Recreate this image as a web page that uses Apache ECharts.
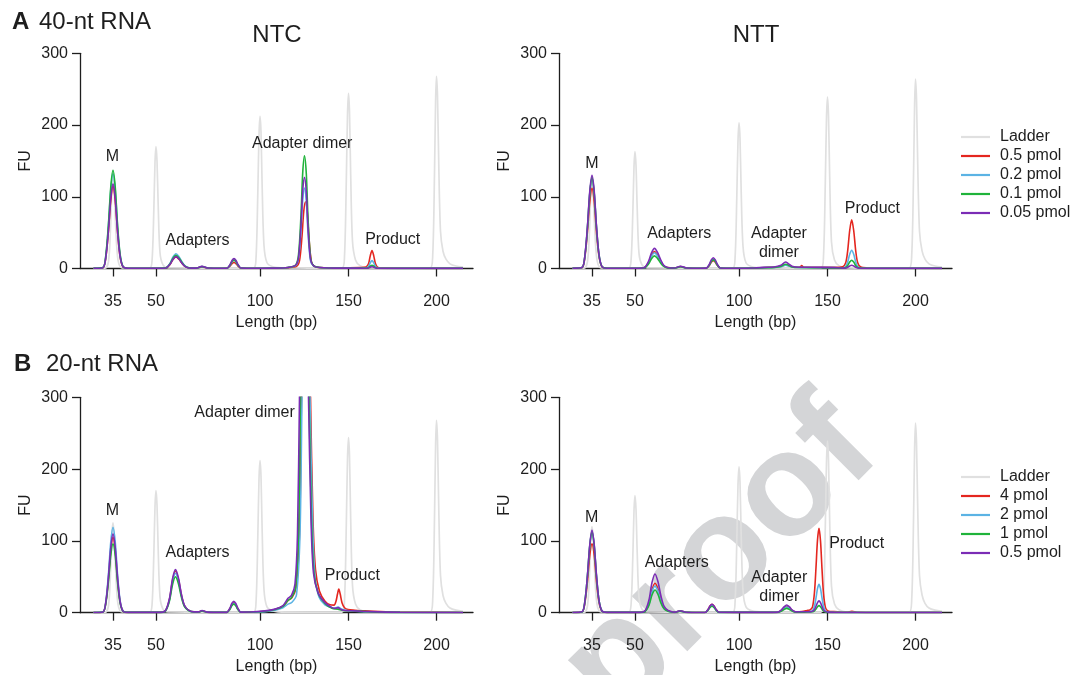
<!DOCTYPE html>
<html><head><meta charset="utf-8">
<script src="https://cdn.jsdelivr.net/npm/echarts@6/dist/echarts.min.js"></script>
<style>html,body{margin:0;padding:0;background:#fff}#c{width:1083px;height:675px}</style>
</head><body><div id="c"></div>
<script>
// ---------- axis: migration time (s) of ladder bands and their sizes ----------
const ladderBp = [35, 50, 100, 150, 200];
const ladderTime = [43.3, 47.6, 58.0, 66.85, 75.65];
const fuTicks = [0, 100, 200, 300];

// ---------- names ----------
const names40 = ['0.5 pmol', '0.2 pmol', '0.1 pmol', '0.05 pmol'];
const names20 = ['4 pmol', '2 pmol', '1 pmol', '0.5 pmol'];

// ---------- ladder traces [time, FU] ----------
const ladderLeft = [
[41.35,0.3],[42.5,0.4],[42.85,10],[43.05,55],[43.18,108],[43.3,125],[43.42,108],[43.57,58],[43.8,12],[44.2,1],
[46.95,0.3],[47.2,10],[47.38,80],[47.5,148],[47.6,170],[47.7,150],[47.82,88],[48.0,22],[48.3,5],[48.8,1],
[57.35,0.5],[57.6,14],[57.78,105],[57.9,186],[58.0,212],[58.1,190],[58.22,112],[58.4,32],[58.7,8],[59.3,2.5],[60.5,0.8],
[66.2,0.6],[66.45,17],[66.63,122],[66.75,214],[66.85,244],[66.95,218],[67.07,130],[67.25,38],[67.55,12],[68.0,4],[68.8,1],
[75.0,0.6],[75.27,18],[75.45,132],[75.56,234],[75.65,268],[75.75,240],[75.88,142],[76.05,52],[76.3,24],[76.6,13],[77.0,6.5],[77.6,3.5],[78.3,2]
];
const ladderRight = [
[41.35,0.3],[42.5,0.4],[42.85,10],[43.05,53],[43.18,104],[43.3,120],[43.42,104],[43.57,56],[43.8,12],[44.2,1],
[46.95,0.3],[47.2,10],[47.38,77],[47.5,142],[47.6,163],[47.7,144],[47.82,84],[48.0,21],[48.3,5],[48.8,1],
[57.35,0.5],[57.6,13],[57.78,100],[57.9,178],[58.0,203],[58.1,182],[58.22,107],[58.4,31],[58.7,8],[59.3,2.5],[60.5,0.8],
[66.2,0.6],[66.45,17],[66.63,119],[66.75,210],[66.85,239],[66.95,213],[67.07,127],[67.25,37],[67.55,12],[68.0,4],[68.8,1],
[75.0,0.6],[75.27,18],[75.45,127],[75.56,228],[75.65,264],[75.75,236],[75.88,140],[76.05,52],[76.3,25],[76.6,13],[77.0,6.5],[77.6,3.5],[78.3,2]
];

// ---------- A: 40-nt RNA, NTC ----------
const ntc40_05 = [
[41.35,0.3],[42.3,1.2],[42.6,17],[42.85,53],[43.08,95],[43.3,115],[43.52,95],[43.75,52],[44.0,17],[44.3,2.3],[44.8,0.4],
[48.0,0.4],[48.6,0.8],[49.0,5.6],[49.3,12.5],[49.6,16],[49.9,12.8],[50.2,7.2],[50.5,2.9],[50.9,0.8],
[51.6,0.5],[52.2,2.2],[52.8,0.6],
[54.2,0.3],[54.7,0.5],[55.0,3.2],[55.2,6.8],[55.4,8.5],[55.6,6.8],[55.8,3.4],[56.1,0.5],
[57.5,0.3],[59.5,0.5],[60.8,1.2],
[61.65,3],[61.95,11],[62.2,45],[62.37,79],[62.55,93],[62.73,78],[62.9,42],[63.15,9],[63.45,3],[64.05,1.2],
[66.0,0.6],[68.0,1.2],
[68.6,2],[68.85,6.5],[69.03,18],[69.2,25],[69.37,18],[69.55,6.5],[69.8,1.5],[70.5,0.5],[73,0.3],[78.3,0.2]
];
const ntc40_02 = [
[41.35,0.3],[42.3,1.3],[42.6,20],[42.85,61],[43.08,110],[43.3,132],[43.52,110],[43.75,59],[44.0,20],[44.3,2.6],[44.8,0.4],
[48.0,0.4],[48.6,1],[49.0,7.2],[49.3,16],[49.6,20.5],[49.9,16.4],[50.2,9.2],[50.5,3.7],[50.9,1],
[51.6,0.5],[52.2,2.6],[52.8,0.6],
[54.2,0.3],[54.7,0.4],[55.0,4.4],[55.2,9.2],[55.4,11.5],[55.6,9.2],[55.8,4.6],[56.1,0.6],
[57.5,0.3],[59.5,0.5],[60.8,1.5],
[61.55,4],[61.85,13.5],[62.1,54],[62.27,95],[62.45,112],[62.63,94],[62.8,50],[63.05,11],[63.35,3.5],[63.95,1.3],
[66.0,0.5],[68.0,0.8],
[68.6,0.8],[68.85,2.8],[69.03,8],[69.2,11],[69.37,8],[69.55,2.8],[69.8,0.6],[70.5,0.3],[73,0.2],[78.3,0.2]
];
const ntc40_01 = [
[41.35,0.3],[42.3,1.4],[42.6,21],[42.85,63],[43.08,114],[43.3,137],[43.52,114],[43.75,62],[44.0,21],[44.3,2.7],[44.8,0.4],
[48.0,0.4],[48.6,0.9],[49.0,6.5],[49.3,14.4],[49.6,18.5],[49.9,14.8],[50.2,8.3],[50.5,3.3],[50.9,0.9],
[51.6,0.5],[52.2,2.6],[52.8,0.6],
[54.2,0.3],[54.7,0.4],[55.0,4.6],[55.2,9.6],[55.4,12],[55.6,9.6],[55.8,4.8],[56.1,0.6],
[57.5,0.3],[59.5,0.5],[60.8,1.5],
[61.55,4.5],[61.85,19],[62.1,75],[62.27,133],[62.45,157],[62.63,132],[62.8,71],[63.05,16],[63.35,4],[63.95,1.5],
[66.0,0.5],[68.0,0.6],
[68.6,0.5],[68.85,1.2],[69.03,3.3],[69.2,4.5],[69.37,3.3],[69.55,1.2],[69.8,0.4],[70.5,0.3],[73,0.2],[78.3,0.2]
];
const ntc40_005 = [
[41.35,0.3],[42.3,1.2],[42.6,18],[42.85,54],[43.08,98],[43.3,118],[43.52,98],[43.75,53],[44.0,18],[44.3,2.4],[44.8,0.4],
[48.0,0.4],[48.6,0.8],[49.0,5.8],[49.3,12.9],[49.6,16.5],[49.9,13.2],[50.2,7.4],[50.5,3],[50.9,0.8],
[51.6,0.5],[52.2,3],[52.8,0.6],
[54.2,0.3],[54.7,0.4],[55.0,5.3],[55.2,11.2],[55.4,14],[55.6,11.2],[55.8,5.6],[56.1,0.7],
[57.5,0.3],[59.5,0.5],[60.8,1.5],
[61.55,4.5],[61.85,15],[62.1,61],[62.27,108],[62.45,127],[62.63,107],[62.8,57],[63.05,13],[63.35,3.8],[63.95,1.5],
[66.0,0.5],[68.0,0.5],
[68.6,0.4],[68.85,0.8],[69.03,1.8],[69.2,2.5],[69.37,1.8],[69.55,0.7],[69.8,0.3],[70.5,0.2],[73,0.2],[78.3,0.2]
];

// ---------- A: 40-nt RNA, NTT ----------
const ntt40_05 = [
[41.35,0.3],[42.3,1.1],[42.6,17],[42.85,52],[43.08,93],[43.3,112],[43.52,93],[43.75,50],[44.0,17],[44.3,2.2],[44.8,0.4],
[48.0,0.4],[48.55,1.2],[48.95,8.2],[49.25,18.3],[49.55,23.5],[49.85,18.8],[50.15,10.6],[50.45,4.2],[50.85,1.2],
[51.55,0.6],[52.15,2.6],[52.75,0.7],
[54.2,0.4],[54.73,0.5],[55.03,4.2],[55.23,8.8],[55.43,11],[55.63,8.8],[55.83,4.4],[56.13,0.6],
[57.5,0.3],[59.5,0.6],[60.5,1.5],[61.5,2],
[62.2,3],[62.45,4.3],[62.67,5],[62.9,4.2],[63.3,2.5],
[63.9,1.8],[64.12,2.2],[64.27,4.2],[64.42,2.2],[64.7,1.8],[66,1.5],[67.5,1.5],
[68.37,2.5],[68.67,8],[68.87,25],[69.07,53],[69.27,68],[69.47,53],[69.67,25],[69.87,8],[70.17,2],[70.8,0.8],[73,0.4],[78.3,0.2]
];
const ntt40_02 = [
[41.35,0.3],[42.3,1.3],[42.6,19],[42.85,58],[43.08,105],[43.3,126],[43.52,105],[43.75,57],[44.0,19],[44.3,2.5],[44.8,0.4],
[48.0,0.4],[48.55,1.1],[48.95,7.7],[49.25,17.2],[49.55,22],[49.85,17.6],[50.15,9.9],[50.45,4],[50.85,1.1],
[51.55,0.6],[52.15,2.8],[52.75,0.7],
[54.2,0.4],[54.73,0.4],[55.03,4.9],[55.23,10.4],[55.43,13],[55.63,10.4],[55.83,5.2],[56.13,0.7],
[57.5,0.3],[59.5,0.5],[60.5,1.2],[61.5,1.6],
[62.2,2.5],[62.45,3.8],[62.67,4.5],[62.9,3.8],[63.3,2],
[64.0,1.4],[66,1.2],[67.5,1.2],
[68.37,0.8],[68.67,2.8],[68.87,9.2],[69.07,19.8],[69.27,25.5],[69.47,19.8],[69.67,9.2],[69.87,2.8],[70.17,0.8],[70.8,0.4],[73,0.3],[78.3,0.2]
];
const ntt40_01 = [
[41.35,0.3],[42.3,1.3],[42.6,19],[42.85,58],[43.08,105],[43.3,127],[43.52,105],[43.75,57],[44.0,19],[44.3,2.5],[44.8,0.4],
[48.0,0.4],[48.55,0.9],[48.95,6.2],[49.25,13.7],[49.55,17.6],[49.85,14.1],[50.15,7.9],[50.45,3.2],[50.85,0.9],
[51.55,0.5],[52.15,2.5],[52.75,0.6],
[54.2,0.4],[54.73,0.4],[55.03,4.6],[55.23,9.6],[55.43,12],[55.63,9.6],[55.83,4.8],[56.13,0.6],
[57.5,0.3],[59.5,0.5],[60.5,1.1],[61.5,1.5],
[62.2,3],[62.45,5],[62.67,6],[62.9,5],[63.3,2.2],
[64.0,1.3],[66,1.1],[67.5,1.1],
[68.37,0.5],[68.67,1.4],[68.87,4.2],[69.07,9],[69.27,11.6],[69.47,9],[69.67,4.2],[69.87,1.4],[70.17,0.5],[70.8,0.3],[73,0.2],[78.3,0.2]
];
const ntt40_005 = [
[41.35,0.3],[42.3,1.3],[42.6,19.5],[42.85,60],[43.08,108],[43.3,130],[43.52,108],[43.75,58.5],[44.0,19.5],[44.3,2.6],[44.8,0.4],
[48.0,0.4],[48.55,1.4],[48.95,9.8],[49.25,21.8],[49.55,28],[49.85,22.4],[50.15,12.6],[50.45,5],[50.85,1.4],
[51.55,0.6],[52.15,3.2],[52.75,0.7],
[54.2,0.4],[54.73,0.5],[55.03,5.7],[55.23,12],[55.43,15],[55.63,12],[55.83,6],[56.13,0.8],
[57.5,0.3],[59.5,0.6],[60.5,1.6],[61.5,2.2],
[62.2,4.5],[62.45,7.2],[62.67,9],[62.9,7],[63.3,3.2],
[64.0,1.8],[66,1.6],[67.5,1.4],
[68.37,0.5],[68.67,0.8],[68.87,1.8],[69.07,3.6],[69.27,4.6],[69.47,3.6],[69.67,1.8],[69.87,0.8],[70.17,0.4],[70.8,0.2],[73,0.2],[78.3,0.2]
];

// ---------- B: 20-nt RNA, NTC ----------
const ntc20_4 = [
[41.35,0.3],[42.3,1.1],[42.6,16],[42.85,48],[43.08,87],[43.3,105],[43.52,87],[43.75,47],[44.0,16],[44.3,2.1],[44.8,0.4],
[48.0,0.4],[48.55,2.9],[48.95,19],[49.25,45],[49.55,58],[49.85,46],[50.15,24],[50.45,9.9],[50.85,3.5],[51.4,1.2],
[51.9,1.2],[52.2,2.6],[52.7,0.8],
[54.2,0.4],[54.68,0.4],[54.98,5.3],[55.18,11.2],[55.38,14],[55.58,11.2],[55.78,5.6],[56.08,0.7],
[57.0,0.8],[58.5,2],[59.5,4.5],[60.3,9],[60.8,17],[61.2,21],[61.6,35],[61.95,110],[62.15,300],[62.35,470],[62.6,570],
[62.82,470],[63.05,300],[63.3,130],[63.55,60],[63.95,30],[64.5,16],[65.0,11],[65.4,10.5],
[65.6,16],[65.75,26],[65.88,33],[66.02,26],[66.2,14],[66.45,7],[66.8,4.5],[67.5,3.5],[68.5,2.5],[70,1.5],[72,0.8],[78.3,0.3]
];
const ntc20_2 = [
[41.35,0.3],[42.3,1.2],[42.6,18],[42.85,55],[43.08,99],[43.3,119],[43.52,99],[43.75,54],[44.0,18],[44.3,2.4],[44.8,0.4],
[48.0,0.4],[48.55,2.8],[48.95,18],[49.25,43],[49.55,55],[49.85,44],[50.15,23],[50.45,9.4],[50.85,3.3],[51.4,1.1],
[51.9,1.1],[52.2,2.6],[52.7,0.8],
[54.2,0.4],[54.68,0.4],[54.98,4.9],[55.18,10.4],[55.38,13],[55.58,10.4],[55.78,5.2],[56.08,0.7],
[57.0,0.6],[58.5,1.5],[59.5,3.5],[60.3,7],[60.8,12],[61.2,14.5],[61.65,25],[62.0,110],[62.2,300],[62.4,470],[62.62,570],
[62.83,470],[63.0,300],[63.25,130],[63.5,50],[63.9,22],[64.5,11],[65.2,7],
[65.5,6.5],[65.8,8],[66.1,5.5],[66.5,3.5],[67.5,2],[69,1],[72,0.5],[78.3,0.2]
];
const ntc20_1 = [
[41.35,0.3],[42.3,1],[42.6,14.4],[42.85,44],[43.08,80],[43.3,96],[43.52,80],[43.75,43],[44.0,14.4],[44.3,1.9],[44.8,0.4],
[48.0,0.4],[48.55,2.5],[48.95,16.5],[49.25,39],[49.55,50],[49.85,40],[50.15,21],[50.45,8.5],[50.85,3],[51.4,1],
[51.9,1],[52.2,2.4],[52.7,0.7],
[54.2,0.4],[54.68,0.4],[54.98,4.6],[55.18,9.6],[55.38,12],[55.58,9.6],[55.78,4.8],[56.08,0.6],
[57.0,0.8],[58.5,2],[59.5,4.5],[60.3,9],[60.8,17],[61.15,21],[61.55,35],[61.85,110],[62.05,300],[62.25,470],[62.48,570],
[62.7,470],[62.9,300],[63.15,130],[63.4,55],[63.85,26],[64.5,13],[65.2,6],
[65.8,5],[66.3,3],[67.5,2.5],[69,1.2],[72,0.5],[78.3,0.2]
];
const ntc20_05 = [
[41.35,0.3],[42.3,1.1],[42.6,16.5],[42.85,51],[43.08,91],[43.3,110],[43.52,91],[43.75,50],[44.0,16.5],[44.3,2.2],[44.8,0.4],
[48.0,0.4],[48.55,3],[48.95,20],[49.25,47],[49.55,60],[49.85,48],[50.15,25],[50.45,10],[50.85,3.6],[51.4,1.2],
[51.9,1.2],[52.2,3],[52.7,0.8],
[54.2,0.4],[54.68,0.5],[54.98,6],[55.18,12.8],[55.38,16],[55.58,12.8],[55.78,6.4],[56.08,0.8],
[57.0,0.9],[58.5,2.5],[59.5,5],[60.3,10],[60.8,20],[61.15,24],[61.5,40],[61.75,110],[61.95,300],[62.15,470],[62.4,570],
[62.65,470],[62.85,300],[63.1,130],[63.35,55],[63.8,28],[64.5,14],[65.2,7],
[65.5,6],[65.8,7],[66.1,4.5],[66.5,3],[67.5,2.5],[69,1.5],[72,0.6],[78.3,0.2]
];

// ---------- B: 20-nt RNA, NTT ----------
const ntt20_4 = [
[41.35,0.3],[42.3,1],[42.6,14.4],[42.85,44],[43.08,80],[43.3,96],[43.52,80],[43.75,43],[44.0,14.4],[44.3,1.9],[44.8,0.4],
[48.0,0.4],[48.6,2],[49.0,13.5],[49.3,32],[49.6,41],[49.9,33],[50.2,17],[50.5,7],[50.9,2.5],[51.4,0.8],
[51.6,0.6],[52.1,2.5],[52.7,0.6],
[54.1,0.3],[54.6,0.3],[54.9,4.4],[55.1,9.3],[55.3,11.6],[55.5,9.3],[55.7,4.6],[56.0,0.6],
[58,0.4],[61.2,0.5],
[61.9,0.7],[62.25,3.4],[62.5,6.8],[62.77,9],[63.05,6.8],[63.3,3.4],[63.7,1],
[64.3,1.5],[64.8,3],[65.1,4],[65.35,8],[65.55,29],[65.7,63],[65.85,101],[66.0,117.6],[66.15,100],[66.3,61],[66.45,27],[66.65,7],[66.9,2.5],[67.5,1.5],
[68.8,0.8],[69.3,2],[69.8,0.6],[72,0.3],[78.3,0.3]
];
const ntt20_2 = [
[41.35,0.3],[42.3,1.1],[42.6,17],[42.85,52],[43.08,94],[43.3,113],[43.52,94],[43.75,51],[44.0,17],[44.3,2.3],[44.8,0.4],
[48.0,0.4],[48.6,1.9],[49.0,12],[49.3,29],[49.6,37],[49.9,30],[50.2,15.5],[50.5,6.3],[50.9,2.2],[51.4,0.7],
[51.6,0.6],[52.1,2.4],[52.7,0.6],
[54.1,0.3],[54.6,0.3],[54.9,3.8],[55.1,8],[55.3,10],[55.5,8],[55.7,4],[56.0,0.5],
[58,0.4],[61.2,0.5],
[61.9,0.6],[62.25,3],[62.5,6],[62.77,8],[63.05,6],[63.3,3],[63.7,0.9],
[64.3,1],[64.8,1.3],[65.1,1.5],[65.35,2.8],[65.55,9.5],[65.7,20.5],[65.85,33.5],[66.0,39.5],[66.15,33.5],[66.3,20.5],[66.45,9.2],[66.65,2.5],[66.9,1],[67.5,0.7],
[70,0.4],[78.3,0.3]
];
const ntt20_1 = [
[41.35,0.3],[42.3,1.1],[42.6,17],[42.85,52],[43.08,93],[43.3,112],[43.52,93],[43.75,50],[44.0,17],[44.3,2.2],[44.8,0.4],
[48.0,0.4],[48.6,1.6],[49.0,10.4],[49.3,24.6],[49.6,31.6],[49.9,25.3],[50.2,13.3],[50.5,5.4],[50.9,1.9],[51.4,0.6],
[51.6,0.5],[52.1,2.2],[52.7,0.5],
[54.1,0.3],[54.6,0.3],[54.9,3.4],[55.1,7.2],[55.3,9],[55.5,7.2],[55.7,3.6],[56.0,0.5],
[58,0.4],[61.2,0.4],
[61.9,0.5],[62.25,2.3],[62.5,4.5],[62.77,6],[63.05,4.5],[63.3,2.3],[63.7,0.7],
[64.3,0.8],[64.8,0.9],[65.1,1],[65.35,1.2],[65.55,2.6],[65.7,5.2],[65.85,8.3],[66.0,9.8],[66.15,8.3],[66.3,5.1],[66.45,2.4],[66.65,0.8],[66.9,0.5],[67.5,0.3],
[70,0.3],[78.3,0.2]
];
const ntt20_05 = [
[41.35,0.3],[42.3,1.2],[42.6,17],[42.85,53],[43.08,95],[43.3,115],[43.52,95],[43.75,52],[44.0,17],[44.3,2.3],[44.8,0.4],
[48.0,0.4],[48.6,2.7],[49.0,18],[49.3,42],[49.6,54],[49.9,43],[50.2,23],[50.5,9.2],[50.9,3.2],[51.4,1.1],
[51.6,0.8],[52.1,2.8],[52.7,0.7],
[54.1,0.3],[54.6,0.3],[54.9,4.4],[55.1,9.3],[55.3,11.6],[55.5,9.3],[55.7,4.6],[56.0,0.6],
[58,0.4],[61.2,0.5],
[61.9,0.8],[62.25,4],[62.5,8],[62.77,10.7],[63.05,8],[63.3,4],[63.7,1.2],
[64.3,1.3],[64.8,1.4],[65.1,1.5],[65.35,2],[65.55,4.5],[65.7,9],[65.85,14],[66.0,16.7],[66.15,14],[66.3,8.8],[66.45,4],[66.65,1.5],[66.9,0.8],[67.5,0.5],
[70,0.3],[78.3,0.2]
];

// ---------- annotation texts [text, time, FU] ----------
const labelsAL = [['M',43.23,156],['Adapters',51.76,38.8],['Adapter dimer',62.22,174.6],['Product',71.27,39.7]];
const labelsAR = [['M',43.3,146.7],['Adapters',52.02,48.7],['Adapter\ndimer',61.99,35.8],['Product',71.34,84]];
const labelsBL = [['M',43.23,141.7],['Adapters',51.76,83.6],['Adapter dimer',56.46,278.7],['Product',67.23,51.1]];
const labelsBR = [['M',43.27,132.9],['Adapters',51.77,69.7],['Adapter\ndimer',62.03,36.2],['Product',69.77,95.7]];

// ---------- styling ----------
const colors = ['#e4261f', '#5bb3e4', '#1fb33a', '#7b2cb5'];
const ladderColor = '#e0e0e0';
const ink = '#1e1e1e';
const FONT = '"Liberation Sans", Arial, sans-serif';

const panels = [
  { grid: { left: 80, top: 53.3, width: 393, height: 215.2 }, ladder: ladderLeft, traces: [ntc40_05, ntc40_02, ntc40_01, ntc40_005], names: names40, labels: labelsAL },
  { grid: { left: 559, top: 53.3, width: 393, height: 215.2 }, ladder: ladderRight, traces: [ntt40_05, ntt40_02, ntt40_01, ntt40_005], names: names40, labels: labelsAR },
  { grid: { left: 80, top: 397.3, width: 393, height: 215.4 }, ladder: ladderLeft, traces: [ntc20_4, ntc20_2, ntc20_1, ntc20_05], names: names20, labels: labelsBL },
  { grid: { left: 559, top: 397.3, width: 393, height: 215.4 }, ladder: ladderRight, traces: [ntt20_4, ntt20_2, ntt20_1, ntt20_05], names: names20, labels: labelsBR }
];

const grids = [], xAxes = [], yAxes = [], series = [];
panels.forEach((p, i) => {
  grids.push(Object.assign({ outerBoundsMode: 'none', containLabel: false }, p.grid));
  xAxes.push({
    type: 'value', gridIndex: i, min: 40, max: 79.3, offset: 8,
    axisLine: { show: true, lineStyle: { color: ink, width: 1.3 } },
    axisTick: { show: true, length: 8, customValues: ladderTime, lineStyle: { color: ink, width: 1.3 } },
    axisLabel: { show: true, customValues: ladderTime, margin: 17, fontSize: 16, color: ink, fontFamily: FONT,
      formatter: v => { const k = ladderTime.findIndex(t => Math.abs(t - v) < 1e-6); return k >= 0 ? String(ladderBp[k]) : ''; } },
    splitLine: { show: false },
    name: 'Length (bp)', nameLocation: 'middle', nameGap: 38,
    nameTextStyle: { fontSize: 16, color: ink, fontFamily: FONT }
  });
  yAxes.push({
    type: 'value', gridIndex: i, min: 0, max: 300, interval: 100,
    axisLine: { show: true, lineStyle: { color: ink, width: 1.3 } },
    axisTick: { show: true, length: 8, lineStyle: { color: ink, width: 1.3 } },
    axisLabel: { show: true, margin: 12, fontSize: 16, color: ink, fontFamily: FONT },
    splitLine: { show: false },
    name: 'FU', nameLocation: 'middle', nameGap: 46, nameRotate: 90,
    nameTextStyle: { fontSize: 16, color: ink, fontFamily: FONT }
  });
  series.push({
    type: 'line', name: 'Ladder', xAxisIndex: i, yAxisIndex: i, data: p.ladder,
    symbol: 'none', smooth: 0.3, lineStyle: { color: ladderColor, width: 1.7 }, itemStyle: { color: ladderColor },
    z: 2, silent: true
  });
  p.traces.forEach((d, k) => {
    series.push({
      type: 'line', name: p.names[k], xAxisIndex: i, yAxisIndex: i, data: d,
      symbol: 'none', smooth: 0.3, lineStyle: { color: colors[k], width: 1.6 }, itemStyle: { color: colors[k] },
      z: 3 + k, silent: true
    });
  });
});

function legendData(names) {
  const arr = [{ name: 'Ladder', itemStyle: { color: ladderColor } }];
  names.forEach((n, k) => arr.push({ name: n, itemStyle: { color: colors[k] } }));
  return arr;
}
const legendCommon = {
  orient: 'vertical', left: 961, icon: 'rect', itemWidth: 29, itemHeight: 2.2, itemGap: 3, padding: 0,
  textStyle: { fontSize: 16, color: ink, fontFamily: FONT, padding: [0, 0, 0, 5] }, selectedMode: false
};

const option = {
  animation: false,
  backgroundColor: '#fff',
  grid: grids, xAxis: xAxes, yAxis: yAxes, series: series,
  legend: [
    Object.assign({ top: 129, data: legendData(names40) }, legendCommon),
    Object.assign({ top: 469, data: legendData(names20) }, legendCommon)
  ]
};

const chart = echarts.init(document.getElementById('c'), null, { renderer: 'canvas' });
chart.setOption(option);

// static texts + annotation texts placed through the axes' own scales
const elements = [
  { type: 'text', x: 721, y: 560, rotation: 45 * Math.PI / 180, z: -10, silent: true,
    style: { text: 'proof', fontSize: 148, fontWeight: 'bold', fontFamily: FONT, fill: '#d4d5d7', align: 'center', verticalAlign: 'middle' } },
  { type: 'text', x: 12, y: 22, style: { text: 'A', fontSize: 24, fontWeight: 'bold', fontFamily: FONT, fill: ink, align: 'left', verticalAlign: 'middle' } },
  { type: 'text', x: 39, y: 22, style: { text: '40-nt RNA', fontSize: 24, fontFamily: FONT, fill: ink, align: 'left', verticalAlign: 'middle' } },
  { type: 'text', x: 14, y: 364, style: { text: 'B', fontSize: 24, fontWeight: 'bold', fontFamily: FONT, fill: ink, align: 'left', verticalAlign: 'middle' } },
  { type: 'text', x: 46, y: 364, style: { text: '20-nt RNA', fontSize: 24, fontFamily: FONT, fill: ink, align: 'left', verticalAlign: 'middle' } },
  { type: 'text', x: 277, y: 35, style: { text: 'NTC', fontSize: 24, fontFamily: FONT, fill: ink, align: 'center', verticalAlign: 'middle' } },
  { type: 'text', x: 756, y: 35, style: { text: 'NTT', fontSize: 24, fontFamily: FONT, fill: ink, align: 'center', verticalAlign: 'middle' } }
];
panels.forEach((p, i) => {
  p.labels.forEach(l => {
    const px = chart.convertToPixel({ xAxisIndex: i, yAxisIndex: i }, [l[1], l[2]]);
    elements.push({ type: 'text', x: px[0], y: px[1], z: 20, silent: true,
      style: { text: l[0], fontSize: 16, fontFamily: FONT, fill: ink, align: 'center', verticalAlign: 'middle', lineHeight: 19 } });
  });
});
chart.setOption({ graphic: { elements: elements } });
</script>
</body></html>
